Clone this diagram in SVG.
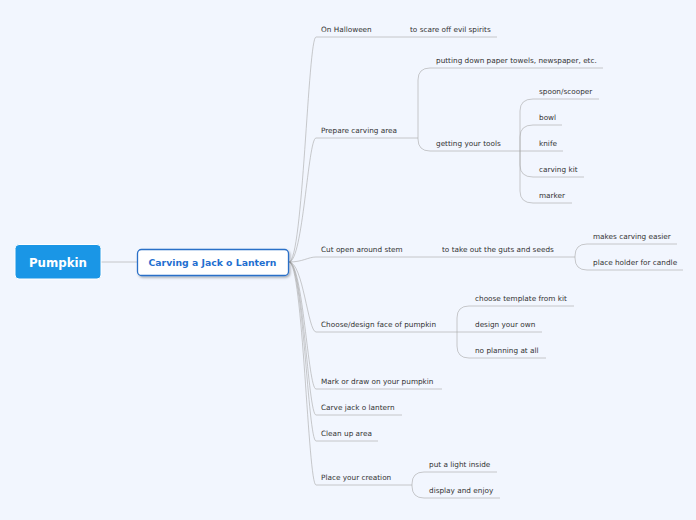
<svg xmlns="http://www.w3.org/2000/svg" width="696" height="520" viewBox="0 0 696 520">
<defs>
<style>
.bg{fill:#f2f6fe}
.ln{fill:none;stroke:#a8a8a8;stroke-opacity:0.6;stroke-width:1}
.t{font-family:"DejaVu Sans",Verdana,sans-serif;font-size:7.3px;fill:#333}
</style>
<filter id="sh" x="-10%" y="-30%" width="130%" height="170%">
<feDropShadow dx="1.2" dy="1.5" stdDeviation="1" flood-color="#000" flood-opacity="0.3"/>
</filter>
</defs>
<rect class="bg" x="0" y="0" width="696" height="520"/>
<g id="connectors">
<path class="ln" d="M101,262 L137,262"/>
<!-- main branches -->
<path class="ln" d="M289,262 C303,262 308,37 316,37"/>
<path class="ln" d="M289,262 C303,262 308,138 316,138"/>
<path class="ln" d="M289,262 C303,262 308,257 316,257"/>
<path class="ln" d="M289,262 C303,262 308,332 316,332"/>
<path class="ln" d="M289,262 C303,262 308,389 316,389"/>
<path class="ln" d="M289,262 C303,262 308,415 316,415"/>
<path class="ln" d="M289,262 C303,262 308,441 316,441"/>
<path class="ln" d="M289,262 C303,262 308,485 316,485"/>
<!-- underlines main -->
<path class="ln" d="M316,37 L405,37"/>
<path class="ln" d="M316,138 L403,138"/>
<path class="ln" d="M316,257 L436,257"/>
<path class="ln" d="M316,332 L443,332"/>
<path class="ln" d="M316,389 L442,389"/>
<path class="ln" d="M316,415 L402,415"/>
<path class="ln" d="M316,441 L378,441"/>
<path class="ln" d="M316,485 L397,485"/>
<!-- On Halloween child -->
<path class="ln" d="M405,37 L497,37"/>
<!-- Prepare children -->
<path class="ln" d="M403,138 L418,138"/>
<path class="ln" d="M418,138 L418,80 Q418,68 430,68"/>
<path class="ln" d="M418,138 L418,139 Q418,151 430,151"/>
<path class="ln" d="M430,68 L603,68"/>
<path class="ln" d="M430,151 L507,151"/>
<!-- tools children -->
<path class="ln" d="M507,151 L520,151"/>
<path class="ln" d="M520,151 L520,111 Q520,99 533,99"/>
<path class="ln" d="M520,151 L520,137 Q520,125 533,125"/>
<path class="ln" d="M520,151 L533,151"/>
<path class="ln" d="M520,151 L520,165 Q520,177 533,177"/>
<path class="ln" d="M520,151 L520,191 Q520,203 533,203"/>
<path class="ln" d="M533,99 L599,99"/>
<path class="ln" d="M533,125 L562,125"/>
<path class="ln" d="M533,151 L563,151"/>
<path class="ln" d="M533,177 L584,177"/>
<path class="ln" d="M533,203 L572,203"/>
<!-- Cut open children -->
<path class="ln" d="M436,257 L560,257"/>
<path class="ln" d="M560,257 L575,257"/>
<path class="ln" d="M575,257 L575,256 Q575,244 587,244"/>
<path class="ln" d="M575,257 L575,258 Q575,270 587,270"/>
<path class="ln" d="M587,244 L677,244"/>
<path class="ln" d="M587,270 L683,270"/>
<!-- Choose children -->
<path class="ln" d="M443,332 L457,332"/>
<path class="ln" d="M457,332 L457,318 Q457,306 469,306"/>
<path class="ln" d="M457,332 L469,332"/>
<path class="ln" d="M457,332 L457,346 Q457,358 469,358"/>
<path class="ln" d="M469,306 L574,306"/>
<path class="ln" d="M469,332 L542,332"/>
<path class="ln" d="M469,358 L546,358"/>
<!-- Place children -->
<path class="ln" d="M397,485 L412,485"/>
<path class="ln" d="M412,485 L412,484 Q412,472 424,472"/>
<path class="ln" d="M412,485 L412,486 Q412,498 424,498"/>
<path class="ln" d="M424,472 L497,472"/>
<path class="ln" d="M424,498 L500,498"/>
</g>
<g id="pumpkin">
<rect x="15" y="244.5" width="86" height="34.5" rx="4" fill="#1a96e6" stroke="#fff" stroke-width="1"/>
<text x="58" y="266.5" text-anchor="middle" style="font-family:'DejaVu Sans',Verdana,sans-serif;font-size:11.8px;font-weight:bold;fill:#fff">Pumpkin</text>
</g>
<g id="carving">
<rect x="137.5" y="249.5" width="151" height="26" rx="4" fill="#fff" stroke="#2a6fc8" stroke-width="1.3" filter="url(#sh)"/>
<text x="212.5" y="266" text-anchor="middle" style="font-family:'DejaVu Sans',Verdana,sans-serif;font-size:9.3px;font-weight:bold;fill:#1f6fd0">Carving a Jack o Lantern</text>
</g>
<g id="on-halloween"><text class="t" x="321" y="32">On Halloween</text></g>
<g id="scare"><text class="t" x="410" y="32">to scare off evil spirits</text></g>
<g id="prepare"><text class="t" x="321" y="133">Prepare carving area</text></g>
<g id="putting"><text class="t" x="436" y="63">putting down paper towels, newspaper, etc.</text></g>
<g id="tools"><text class="t" x="436" y="146">getting your tools</text></g>
<g id="spoon"><text class="t" x="539" y="94">spoon/scooper</text></g>
<g id="bowl"><text class="t" x="539" y="120">bowl</text></g>
<g id="knife"><text class="t" x="539" y="146">knife</text></g>
<g id="kit"><text class="t" x="539" y="172">carving kit</text></g>
<g id="marker"><text class="t" x="539" y="198">marker</text></g>
<g id="cut"><text class="t" x="321" y="252">Cut open around stem</text></g>
<g id="guts"><text class="t" x="442" y="252">to take out the guts and seeds</text></g>
<g id="easier"><text class="t" x="593" y="239">makes carving easier</text></g>
<g id="holder"><text class="t" x="593" y="265">place holder for candle</text></g>
<g id="choose"><text class="t" x="321" y="327">Choose/design face of pumpkin</text></g>
<g id="template"><text class="t" x="475" y="301">choose template from kit</text></g>
<g id="own"><text class="t" x="475" y="327">design your own</text></g>
<g id="noplan"><text class="t" x="475" y="353">no planning at all</text></g>
<g id="mark"><text class="t" x="321" y="384">Mark or draw on your pumpkin</text></g>
<g id="carve"><text class="t" x="321" y="410">Carve jack o lantern</text></g>
<g id="clean"><text class="t" x="321" y="436">Clean up area</text></g>
<g id="place"><text class="t" x="321" y="480">Place your creation</text></g>
<g id="light"><text class="t" x="429" y="467">put a light inside</text></g>
<g id="display"><text class="t" x="429" y="493">display and enjoy</text></g>
</svg>
